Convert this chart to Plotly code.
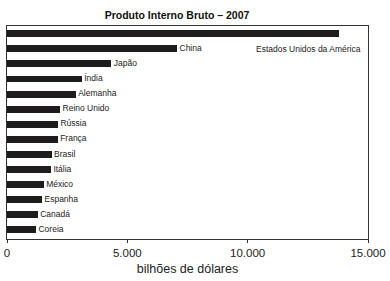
import plotly.graph_objects as go

countries = ["Estados Unidos da América", "China", "Japão", "Índia", "Alemanha", "Reino Unido",
             "Rússia", "França", "Brasil", "Itália", "México", "Espanha", "Canadá", "Coreia"]
gdp = [13780, 7070, 4340, 3110, 2860, 2210, 2120, 2110, 1860, 1830, 1530, 1460, 1280, 1210]
labels = ["", "China", "Japão", "Índia", "Alemanha", "Reino Unido",
          "Rússia", "França", "Brasil", "Itália", "México", "Espanha", "Canadá", "Coreia"]
tick_vals = [0, 5000, 10000, 15000]
tick_text = ["0", "5.000", "10.000", "15.000"]

FONT = "Liberation Sans, Arial, sans-serif"
idx = list(range(len(countries)))

fig = go.Figure()
fig.add_trace(go.Bar(
    x=gdp, y=idx, orientation="h", width=0.46,
    marker=dict(color="#1e1c1c", line=dict(width=0)),
    hoverinfo="skip",
))
fig.add_trace(go.Scatter(
    x=gdp, y=idx, mode="text", text=labels, texttemplate="\u00a0%{text}",
    textposition="middle right",
    textfont=dict(family=FONT, size=8.5, color="#222"),
    hoverinfo="skip", cliponaxis=False,
))
fig.add_annotation(
    x=0.985, xref="paper", y=1, yref="y", text=countries[0],
    showarrow=False, xanchor="right", yanchor="middle",
    font=dict(family=FONT, size=8.5, color="#222"),
)

fig.update_layout(
    width=390, height=281,
    margin=dict(l=4, r=22, t=26, b=42),
    paper_bgcolor="white", plot_bgcolor="white",
    showlegend=False,
    bargap=0,
    title=dict(text="<b>Produto Interno Bruto – 2007</b>", x=177 / 390, xanchor="center",
               y=1 - 15 / 281, yanchor="middle", yref="container",
               font=dict(family=FONT, size=10.5, color="#111")),
    font=dict(family=FONT, color="#222"),
)
fig.update_xaxes(
    range=[0, 15000], tickvals=tick_vals, ticktext=tick_text,
    showgrid=False, zeroline=False,
    showline=True, linecolor="#333", linewidth=1, mirror=True,
    ticks="outside", ticklen=3, tickcolor="#333",
    tickfont=dict(family=FONT, size=11.5, color="#222"),
    title=dict(text="bilhões de dólares", font=dict(family=FONT, size=12.5, color="#222"), standoff=6),
)
fig.update_yaxes(
    range=[13.6, -0.51], showticklabels=False, showgrid=False, zeroline=False,
    showline=True, linecolor="#333", linewidth=1, mirror=True, ticks="",
)

fig.write_html("out.html")
